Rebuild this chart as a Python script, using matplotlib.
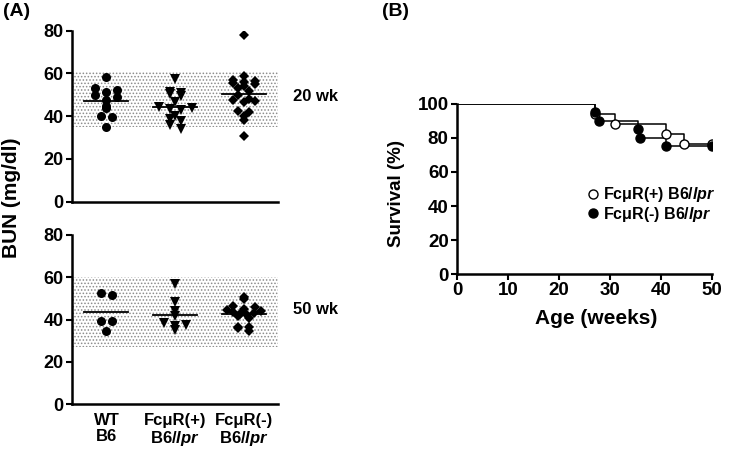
import numpy as np
import matplotlib
matplotlib.use("Agg")
import matplotlib.pyplot as plt

plt.rcParams['font.family'] = ['Liberation Sans', 'DejaVu Sans']
plt.rcParams['font.weight'] = 'bold'
plt.rcParams['mathtext.fontset'] = 'custom'
plt.rcParams['mathtext.rm'] = 'Liberation Sans:bold'
plt.rcParams['mathtext.it'] = 'Liberation Sans:italic:bold'
plt.rcParams['hatch.linewidth'] = 0.7

# ---- data: BUN (mg/dl) ----
groups = ['WT\nB6', 'FcμR(+)\nB6/$\\mathit{lpr}$', 'FcμR(-)\nB6/$\\mathit{lpr}$']
wt_20 = [58.5, 53.0, 52.3, 51.5, 49.9, 49.1, 47.6, 44.8, 43.7, 40.1, 39.5, 35.1]
plus_20 = [57.3, 51.5, 50.7, 50.2, 49.4, 46.8, 44.4, 44.0, 43.2, 42.9, 40.1,
           38.5, 37.8, 35.9, 33.9]
minus_20 = [78.0, 59.0, 57.0, 56.5, 56.0, 55.5, 55.0, 54.0, 53.0, 52.0, 50.0,
            48.0, 47.5, 47.0, 46.5, 42.5, 42.0, 40.0, 38.0, 30.5]
wt_50 = [52.8, 51.7, 39.4, 39.4, 34.8]
plus_50 = [56.8, 48.1, 44.2, 41.5, 38.6, 37.5, 37.2, 35.2]
minus_50 = [50.5, 49.8, 46.5, 46.0, 45.0, 44.5, 44.0, 43.0, 42.0, 41.0, 41.5,
            42.5, 43.5, 36.7, 36.5, 36.0, 34.5]
normal_20 = (35, 61)
normal_50 = (27, 60)

# ---- data: survival ----
plus_weeks = [0, 27, 31, 41, 44.5, 50]
plus_surv = [100, 94.1, 88.2, 82.4, 76.5, 76.5]
minus_weeks = [0, 27, 27.8, 35.5, 36, 41, 50]
minus_surv = [100, 95, 90, 85, 80, 75, 75]


def spread(ax, xc, vals, binw=2.8, sp_px=11, maxw=34):
    # Prism-like scatter: points binned in rows, spread side by side,
    # highest values on the outside of each row
    vals = np.asarray(vals, float)
    px_per_x = ax.transData.transform((1, 0))[0] - ax.transData.transform((0, 0))[0]
    bins = np.floor(vals / binw).astype(int)
    xs = np.full(len(vals), float(xc))
    for b in np.unique(bins):
        idx = np.where(bins == b)[0]
        idx = idx[np.argsort(vals[idx])[::-1]]
        n = len(idx)
        if n == 1:
            continue
        sp = min(sp_px, maxw / (n - 1)) / px_per_x
        pos = xc + (np.arange(n) - (n - 1) / 2) * sp
        order = []
        lo, hi = 0, n - 1
        while lo <= hi:
            order.append(lo)
            if hi != lo:
                order.append(hi)
            lo += 1
            hi -= 1
        xs[idx] = pos[order]
    return xs


fig = plt.figure(figsize=(7.32, 4.5), dpi=100)

ax1 = fig.add_axes([0.0984, 0.5518, 0.2814, 0.38])
ax2 = fig.add_axes([0.0984, 0.1016, 0.2814, 0.3762])
ax3 = fig.add_axes([0.6243, 0.391, 0.3480, 0.378])

markers = [('o', 6.5), ('v', 7.5), ('D', 5.3)]
panels = [(ax1, [wt_20, plus_20, minus_20], normal_20),
          (ax2, [wt_50, plus_50, minus_50], normal_50)]

for ax, data, band in panels:
    ax.set_xlim(0, 3)
    ax.set_ylim(0, 80)
    ax.axhspan(band[0], band[1], facecolor='none', hatch='.....',
               edgecolor='#8c8c8c', linewidth=0, zorder=0)
    for k, vals in enumerate(data):
        xc = k + 0.5
        mk, ms = markers[k]
        xs = spread(ax, xc, vals)
        ax.plot(xs, vals, mk, color='black', ms=ms, mew=0, zorder=3)
        m = np.mean(vals)
        ax.plot([xc - 0.32, xc + 0.32], [m, m], color='black', lw=1.3, zorder=4)
    ax.set_yticks([0, 20, 40, 60, 80])
    ax.set_xticks([0.5, 1.5, 2.5])
    ax.tick_params(axis='y', labelsize=13, length=4, width=1.5, pad=2)
    ax.tick_params(axis='x', length=0, labelsize=12, pad=6)
    for s in ['top', 'right']:
        ax.spines[s].set_visible(False)
    for s in ['left', 'bottom']:
        ax.spines[s].set_linewidth(1.8)

ax1.set_xticklabels([])
ax2.set_xticklabels(groups, linespacing=1.1)
fig.text(292.7 / 732, 1 - 96.7 / 450, '20 wk', fontsize=12, va='center', ha='left')
fig.text(293.3 / 732, 1 - 310 / 450, '50 wk', fontsize=12, va='center', ha='left')

# survival
ax3.step(plus_weeks, plus_surv, where='post', color='black', lw=1.1)
ax3.step(minus_weeks, minus_surv, where='post', color='black', lw=1.1)
ax3.plot(plus_weeks[1:], plus_surv[1:], 'o', mfc='white', mec='black', mew=1.0,
         ms=6.5, label='FcμR(+) B6/$\\mathit{lpr}$', zorder=3)
ax3.plot(minus_weeks[1:], minus_surv[1:], 'o', mfc='black', mec='black', mew=1.0,
         ms=6.5, label='FcμR(-) B6/$\\mathit{lpr}$', zorder=3)
ax3.set_xlim(0, 50)
ax3.set_ylim(0, 100)
ax3.set_xticks([0, 10, 20, 30, 40, 50])
ax3.set_yticks([0, 20, 40, 60, 80, 100])
ax3.tick_params(labelsize=13.5, length=4, width=1.5, pad=2)
for s in ['top', 'right']:
    ax3.spines[s].set_visible(False)
for s in ['left', 'bottom']:
    ax3.spines[s].set_linewidth(1.8)
ax3.legend(loc='center left', bbox_to_anchor=(587 / 732, 1 - 204.5 / 450),
           bbox_transform=fig.transFigure, frameon=False, fontsize=11.5,
           handlelength=0.8, handletextpad=0.2, labelspacing=0.05, borderpad=0,
           borderaxespad=0)

fig.text(596 / 732, 1 - 318 / 450, 'Age (weeks)', fontsize=15, ha='center', va='center')
fig.text(396.7 / 732, 1 - 193.5 / 450, 'Survival (%)', fontsize=13.5, rotation=90,
         ha='center', va='center')
fig.text(12 / 732, 1 - 198 / 450, 'BUN (mg/dl)', fontsize=15, rotation=90,
         ha='center', va='center')
fig.text(3 / 732, 1 - 11 / 450, '(A)', fontsize=14, ha='left', va='center')
fig.text(382 / 732, 1 - 11 / 450, '(B)', fontsize=14, ha='left', va='center')

fig.savefig('out.png', dpi=100)
